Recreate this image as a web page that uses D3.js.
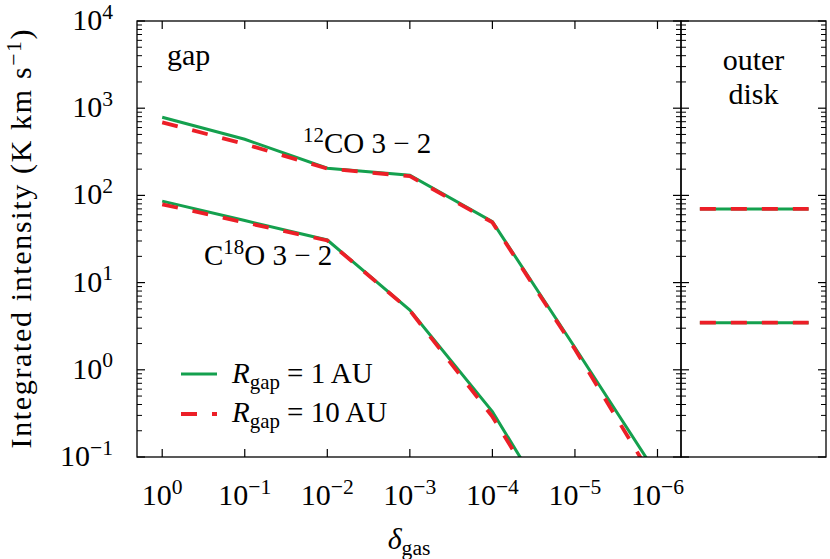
<!DOCTYPE html>
<html><head><meta charset="utf-8">
<script src="https://cdn.jsdelivr.net/npm/d3@7"></script>
<style>body{margin:0;background:#fff} svg{display:block} text{font-family:"Liberation Serif","Times New Roman",serif;fill:#000}</style>
</head><body><svg id="c" width="830" height="559"></svg>
<script>
// ---- data ----
const deltaGas = [1, 1e-1, 1e-2, 1e-3, 1e-4, 1e-5, 1e-6];
const co12Gap1 = [787, 440, 205, 170, 50, 1.8, 0.062];
const co12Gap10 = [689, 388, 203, 166, 49, 1.72, 0.047];
const c18oGap1 = [86, 51.5, 30.8, 4.85, 0.331, 0.0093];
const c18oGap10 = [79, 49, 30.4, 4.8, 0.29, 0.0085];
const outerSpan = [0.13, 0.88];
const outerCo12 = [70, 70];
const outerC18o = [3.47, 3.47];
const xTickValues = [1, 1e-1, 1e-2, 1e-3, 1e-4, 1e-5, 1e-6];
const xTickExponents = ["0", "−1", "−2", "−3", "−4", "−5", "−6"];
const yTickValues = [0.1, 1, 10, 100, 1000, 10000];
const yTickExponents = ["−1", "0", "1", "2", "3", "4"];
const legendLabels = ["1 AU", "10 AU"];

const GREEN = "#14a04e", RED = "#ec1f27";
const FS = 29, FT = 30;

const svg = d3.select("#c");
const L = 137, R = 681, T = 21, B = 457, R2 = 826;
const x = d3.scaleLog().domain([2.02, 5.19e-7]).range([L, R]);
const y = d3.scaleLog().domain([0.1, 1e4]).range([B, T]);
const xo = d3.scaleLinear().domain([0, 1]).range([R, R2]);

function mathText(g, parts, size, rise) {
  const t = g.append("text").attr("font-size", size);
  let off = 0;
  parts.forEach(p => {
    const ts = t.append("tspan").text(p.t);
    let target = 0, fs = size;
    if (p.sup) { target = -size * (rise || 0.38); fs = size * 0.72; }
    if (p.sub) { target = size * 0.2; fs = size * 0.72; }
    ts.attr("font-size", fs).attr("dy", target - off);
    if (p.it) ts.attr("font-style", "italic");
    off = target;
  });
  return t;
}

// clip
svg.append("defs").append("clipPath").attr("id", "clipL")
  .append("rect").attr("x", L).attr("y", T).attr("width", R - L).attr("height", B - T);

const line = d3.line().x((d, i) => x(deltaGas[i])).y(d => y(d));
const gl = svg.append("g").attr("clip-path", "url(#clipL)");
[[co12Gap1, co12Gap10], [c18oGap1, c18oGap10]].forEach(([a, b]) => {
  gl.append("path").attr("d", line(a)).attr("fill", "none").attr("stroke", GREEN).attr("stroke-width", 3);
  gl.append("path").attr("d", line(b)).attr("fill", "none").attr("stroke", RED).attr("stroke-width", 3.8)
    .attr("stroke-dasharray", "16,15");
});

// outer disk lines
const lineO = d3.line().x((d, i) => xo(outerSpan[i])).y(d => y(d));
[outerCo12, outerC18o].forEach(v => {
  svg.append("path").attr("d", lineO(v)).attr("fill", "none").attr("stroke", GREEN).attr("stroke-width", 3);
  svg.append("path").attr("d", lineO(v)).attr("fill", "none").attr("stroke", RED).attr("stroke-width", 3.8)
    .attr("stroke-dasharray", "16,15");
});

// frames
const ax = svg.append("g").attr("stroke", "#000").attr("fill", "none");
ax.append("rect").attr("x", L).attr("y", T).attr("width", R - L).attr("height", B - T).attr("stroke-width", 1.3);
ax.append("rect").attr("x", R).attr("y", T).attr("width", R2 - R).attr("height", B - T).attr("stroke-width", 1.3);

// y ticks
const minor = [];
for (let d = -1; d < 4; d++) for (let k = 2; k < 10; k++) minor.push(k * Math.pow(10, d));
const MAJ = 8, MIN = 5;
[[L, 1], [R, -1], [R, 1], [R2, -1]].forEach(([x0, dir]) => {
  yTickValues.forEach(v => ax.append("line").attr("x1", x0).attr("x2", x0 + dir * MAJ)
    .attr("y1", y(v)).attr("y2", y(v)).attr("stroke-width", 1.2));
  minor.forEach(v => ax.append("line").attr("x1", x0).attr("x2", x0 + dir * MIN)
    .attr("y1", y(v)).attr("y2", y(v)).attr("stroke-width", 1));
});
// x ticks
xTickValues.forEach(v => {
  ax.append("line").attr("x1", x(v)).attr("x2", x(v)).attr("y1", B).attr("y2", B - MAJ).attr("stroke-width", 1.2);
  ax.append("line").attr("x1", x(v)).attr("x2", x(v)).attr("y1", T).attr("y2", T + MAJ).attr("stroke-width", 1.2);
});

// tick labels
yTickValues.forEach((v, i) => {
  mathText(svg, [{ t: "10" }, { t: yTickExponents[i], sup: true }], FT)
    .attr("x", 113).attr("y", y(v) + 9).attr("text-anchor", "end");
});
xTickValues.forEach((v, i) => {
  mathText(svg, [{ t: "10" }, { t: xTickExponents[i], sup: true }], FT)
    .attr("x", x(v)).attr("y", 505).attr("text-anchor", "middle");
});

// axis titles
mathText(svg, [{ t: "δ", it: true }, { t: "gas", sub: true }], FT)
  .attr("x", (L + R) / 2).attr("y", 549).attr("text-anchor", "middle");
mathText(svg, [{ t: "Integrated intensity (K km s" }, { t: "−1", sup: true }, { t: ")" }], FT, 0.32)
  .attr("text-anchor", "middle").attr("textLength", 419).attr("lengthAdjust", "spacing")
  .attr("transform", `translate(31,${(T + B) / 2}) rotate(-90)`);

// annotations
mathText(svg, [{ t: "gap" }], FT).attr("x", 167).attr("y", 65);
svg.append("text").attr("font-size", FT).attr("x", (R + R2) / 2).attr("y", 70).attr("text-anchor", "middle").text("outer");
svg.append("text").attr("font-size", FT).attr("x", (R + R2) / 2).attr("y", 104).attr("text-anchor", "middle").text("disk");
mathText(svg, [{ t: "12", sup: true }, { t: "CO 3 − 2" }], FS).attr("x", 303).attr("y", 153);
mathText(svg, [{ t: "C" }, { t: "18", sup: true }, { t: "O 3 − 2" }], FS).attr("x", 204).attr("y", 265);

// legend
[[GREEN, null, 3, 374, 383], [RED, "16,15", 3.8, 414, 422]].forEach(([c, dash, w, ly, ty], i) => {
  const l = svg.append("line").attr("x1", 181).attr("x2", 217).attr("y1", ly).attr("y2", ly)
    .attr("stroke", c).attr("stroke-width", w);
  if (dash) l.attr("stroke-dasharray", dash);
  mathText(svg, [{ t: "R", it: true }, { t: "gap", sub: true }, { t: " = " + legendLabels[i] }], FS)
    .attr("x", 232).attr("y", ty);
});
</script></body></html>
